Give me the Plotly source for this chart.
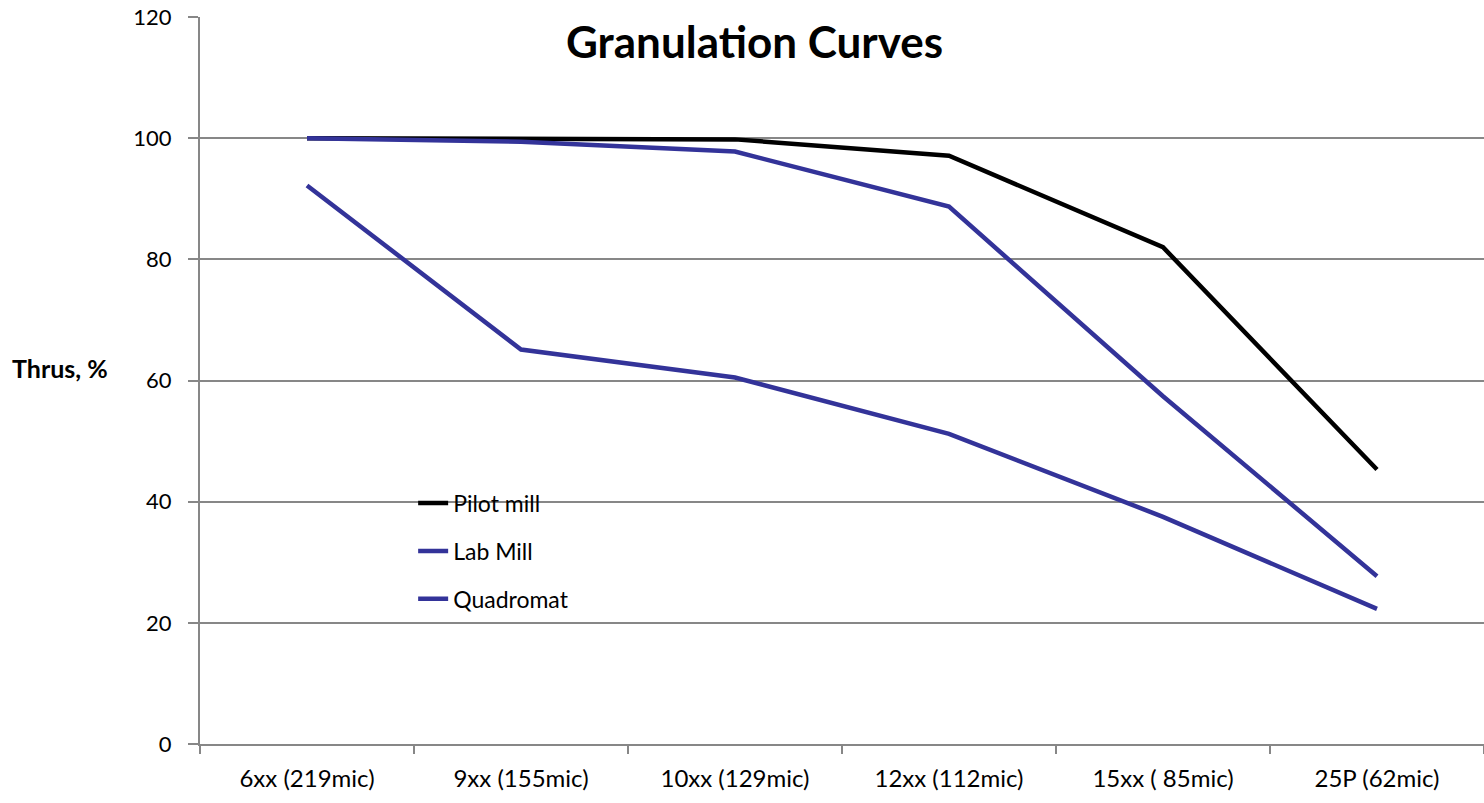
import plotly.graph_objects as go

# sieve categories (x axis)
sieves = ['6xx (219mic)', '9xx (155mic)', '10xx (129mic)', '12xx (112mic)', '15xx ( 85mic)', '25P (62mic)']

# percent through each sieve
pilot_mill = [100, 99.9, 99.8, 97.1, 82.0, 45.3]
lab_mill = [100, 99.4, 97.8, 88.7, 57.4, 27.7]
quadromat = [92.2, 65.1, 60.5, 51.2, 37.5, 22.3]

grey = '#878787'
blue = '#333399'
font_family = 'Lato, sans-serif'

fig = go.Figure()
fig.add_trace(go.Scatter(x=sieves, y=pilot_mill, mode='lines', name='Pilot mill', legendgroup='a',
                         line=dict(color='black', width=4.5)))
fig.add_trace(go.Scatter(x=sieves, y=lab_mill, mode='lines', name='Lab Mill', legendgroup='b',
                         line=dict(color=blue, width=4.5)))
fig.add_trace(go.Scatter(x=sieves, y=quadromat, mode='lines', name='Quadromat', legendgroup='c',
                         line=dict(color=blue, width=4.5)))

fig.update_layout(
    width=1484, height=803,
    margin=dict(l=200, r=0, t=17, b=59),
    paper_bgcolor='white', plot_bgcolor='white',
    font=dict(family=font_family, size=24, color='black'),
    showlegend=True,
    legend=dict(x=0.166, y=0.361, xanchor='left', yanchor='top',
                bgcolor='rgba(0,0,0,0)', font=dict(size=23),
                tracegroupgap=15),
    xaxis=dict(type='category', showgrid=False, showline=True, linecolor=grey, linewidth=2,
               ticks='outside', tickson='boundaries', ticklen=8, tickcolor=grey, tickwidth=2,
               tickfont=dict(size=24), range=[-0.5, 5.5], ticklabelstandoff=12,
               automargin=False),
    yaxis=dict(range=[0, 120], dtick=20, showgrid=True, gridcolor=grey, gridwidth=1.5,
               showline=True, linecolor=grey, linewidth=2, ticks='outside', ticklen=10,
               tickcolor=grey, tickwidth=2, zeroline=False, tickfont=dict(size=22),
               ticklabelstandoff=12, ticklabeloverflow='allow', automargin=False),
    annotations=[
        dict(text='<b>Granulation Curves</b>', x=(754 - 200) / 1284, y=(744 - 41) / 727,
             xref='paper', yref='paper', xanchor='center', yanchor='middle',
             showarrow=False, font=dict(size=44)),
        dict(text='<b>Thrus, %</b>', x=(60 - 200) / 1284, y=(744 - 368) / 727,
             xref='paper', yref='paper', xanchor='center', yanchor='middle',
             showarrow=False, font=dict(size=25)),
    ],
)

# drop the default 8px page margin so the figure fills the window
fig.write_html('out.html', config={'displayModeBar': False},
               post_script="document.body.style.margin = '0';")
